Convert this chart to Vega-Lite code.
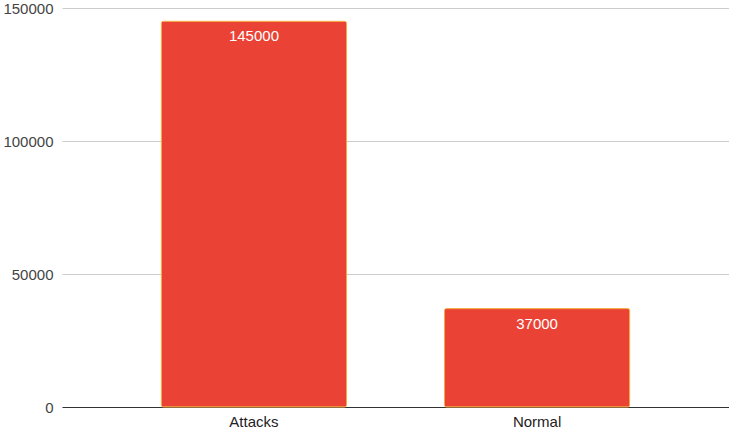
{
  "$schema": "https://vega.github.io/schema/vega-lite/v6.json",
  "width": 667,
  "height": 399,
  "autosize": {"type": "none"},
  "padding": {"left": 62, "top": 8, "right": 0, "bottom": 24},
  "background": "white",
  "config": {
    "view": {"stroke": null},
    "font": "Liberation Sans"
  },
  "data": {
    "values": [
      {"category": "Attacks", "count": 145000},
      {"category": "Normal", "count": 37000}
    ]
  },
  "encoding": {
    "x": {
      "field": "category",
      "type": "nominal",
      "sort": null,
      "scale": {"paddingInner": 0.346, "paddingOuter": 0.351},
      "axis": {
        "title": null,
        "labelAngle": 0,
        "labelFontSize": 15,
        "labelColor": "#222222",
        "labelPadding": 7,
        "ticks": false,
        "domainColor": "#333333",
        "domainWidth": 1,
        "grid": false
      }
    },
    "y": {
      "field": "count",
      "type": "quantitative",
      "scale": {"domain": [0, 150000]},
      "axis": {
        "title": null,
        "values": [0, 50000, 100000, 150000],
        "format": "d",
        "labelFontSize": 15,
        "labelColor": "#444444",
        "labelPadding": 9,
        "ticks": false,
        "domain": false,
        "gridColor": "#cccccc",
        "gridWidth": 1
      }
    }
  },
  "layer": [
    {
      "mark": {
        "type": "bar",
        "color": "#EA4335",
        "stroke": "#F4A742",
        "strokeWidth": 1,
        "cornerRadius": 2
      }
    },
    {
      "mark": {
        "type": "text",
        "color": "white",
        "fontSize": 15,
        "baseline": "top",
        "dy": 8
      },
      "encoding": {
        "text": {"field": "count", "type": "quantitative", "format": "d"}
      }
    }
  ]
}
